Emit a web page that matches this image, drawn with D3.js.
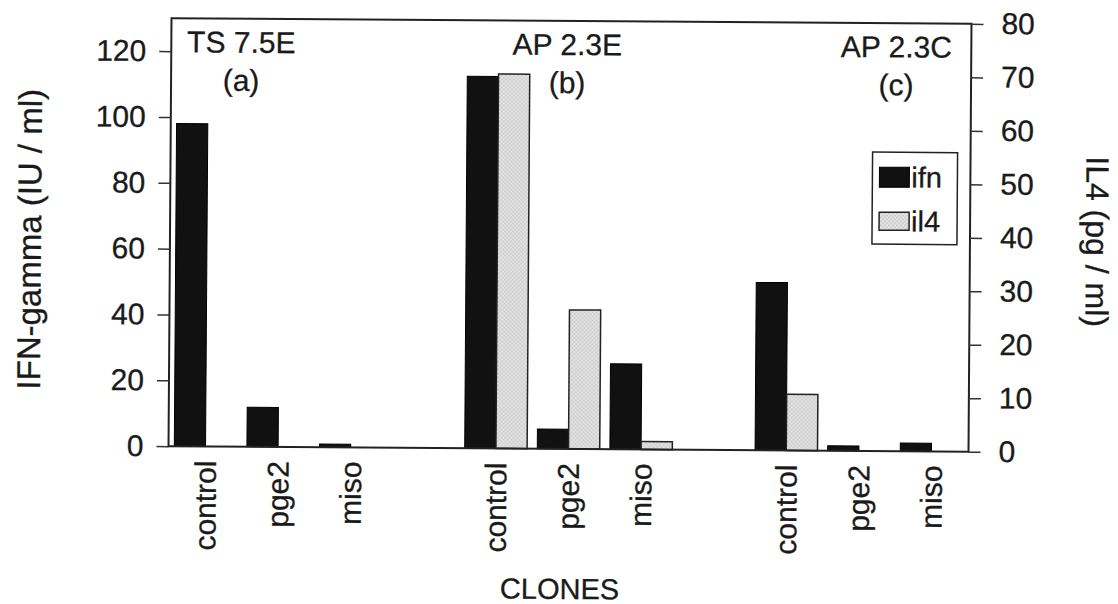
<!DOCTYPE html>
<html>
<head>
<meta charset="utf-8">
<script src="https://cdn.jsdelivr.net/npm/d3@7"></script>
<style>
  body { margin: 0; background: #fff; }
  text { font-family: "Liberation Sans", Arial, sans-serif; fill: #1a1a1a; stroke: #1a1a1a; stroke-width: 0.3; }
</style>
</head>
<body>
<div id="vis"></div>
<script>
const width = 1118;
const height = 604;

// data
const groups = ['TS 7.5E', 'AP 2.3E', 'AP 2.3C'];
const groupTags = ['(a)', '(b)', '(c)'];
const treatments = ['control', 'pge2', 'miso'];
const ifnValues = [[98, 12, 1], [113, 6, 26], [51, 1.5, 2.5]];   // IU / ml
const il4Values = [[0, 0, 0], [70, 26, 1.5], [10.5, 0, 0]];      // pg / ml
const leftTicks = [0, 20, 40, 60, 80, 100, 120];
const rightTicks = [0, 10, 20, 30, 40, 50, 60, 70, 80];

const margin = {left: 170, right: 148, top: 21, bottom: 155};
const plotW = width - margin.left - margin.right;
const plotH = height - margin.top - margin.bottom;

// slots: 3 treatments per group, one empty slot between groups
const slots = [];
groups.forEach((g, gi) => {
    treatments.forEach((t, ti) => slots.push({key: gi + '-' + t, g: gi, t: ti}));
    if (gi < groups.length - 1) slots.push({key: 'gap' + gi, gap: true});
});
const rows = slots.filter(s => !s.gap).map(s => ({
    key: s.key, treatment: treatments[s.t],
    ifn: ifnValues[s.g][s.t], il4: il4Values[s.g][s.t]
}));

const svg = d3.select('#vis')
    .append('svg')
    .attr('width', width)
    .attr('height', height);

const defs = svg.append('defs');
const pat = defs.append('pattern')
    .attr('id', 'dots')
    .attr('patternUnits', 'userSpaceOnUse')
    .attr('width', 4).attr('height', 4);
pat.append('rect').attr('width', 4).attr('height', 4).attr('fill', '#e4e4e4');
pat.append('circle').attr('cx', 1).attr('cy', 1).attr('r', 0.6).attr('fill', '#888');
pat.append('circle').attr('cx', 3).attr('cy', 3).attr('r', 0.6).attr('fill', '#888');

// the scan is tilted slightly
const root = svg.append('g').attr('transform', 'rotate(0.4,570,235)');
const g = root.append('g').attr('transform', `translate(${margin.left},${margin.top})`);

const x = d3.scaleBand()
    .domain(slots.map(s => s.key))
    .range([0, plotW])
    .paddingInner(0.14)
    .paddingOuter(0.08);
const half = x.bandwidth() / 2;

const yL = d3.scaleLinear().domain([0, 130]).range([plotH, 0]);
const yR = d3.scaleLinear().domain([0, 80]).range([plotH, 0]);

// bars
g.selectAll('rect.ifn')
    .data(rows)
    .join('rect')
    .attr('class', 'ifn')
    .attr('x', d => x(d.key))
    .attr('width', half)
    .attr('y', d => yL(d.ifn))
    .attr('height', d => plotH - yL(d.ifn))
    .style('fill', '#111')
    .style('stroke', '#000')
    .style('stroke-width', 1);

g.selectAll('rect.il4')
    .data(rows.filter(d => d.il4 > 0))
    .join('rect')
    .attr('class', 'il4')
    .attr('x', d => x(d.key) + half)
    .attr('width', half)
    .attr('y', d => yR(d.il4))
    .attr('height', d => plotH - yR(d.il4))
    .style('fill', 'url(#dots)')
    .style('stroke', '#222')
    .style('stroke-width', 1.5);

// frame
g.append('rect')
    .attr('width', plotW)
    .attr('height', plotH)
    .style('fill', 'none')
    .style('stroke', '#222')
    .style('stroke-width', 2);

// axes
const leftAxis = g.append('g')
    .call(d3.axisLeft(yL).tickValues(leftTicks).tickSize(12).tickPadding(13));
const rightAxis = g.append('g')
    .attr('transform', `translate(${plotW},0)`)
    .call(d3.axisRight(yR).tickValues(rightTicks).tickSize(12).tickPadding(18));
[leftAxis, rightAxis].forEach(a => {
    a.select('.domain').remove();
    a.selectAll('line').style('stroke', '#333').style('stroke-width', 1.5);
    a.selectAll('text').style('font-size', '30px').style('fill', '#1a1a1a');
});

// category labels
g.selectAll('text.cat')
    .data(rows)
    .join('text')
    .attr('class', 'cat')
    .attr('transform', d => `translate(${x(d.key) + half},${plotH + 14}) rotate(-90)`)
    .attr('text-anchor', 'end')
    .attr('dy', '0.35em')
    .style('font-size', '30px')
    .text(d => d.treatment);

// group titles
const titleX = [240, 566, 895];
groups.forEach((name, i) => {
    g.append('text')
        .attr('x', titleX[i] - margin.left)
        .attr('y', 55 - margin.top)
        .attr('text-anchor', 'middle')
        .style('font-size', '30px')
        .text(name);
    g.append('text')
        .attr('x', titleX[i] - margin.left)
        .attr('y', 93 - margin.top)
        .attr('text-anchor', 'middle')
        .style('font-size', '30px')
        .text(groupTags[i]);
});

// legend
const lg = g.append('g').attr('transform', `translate(${872 - margin.left},${150 - margin.top})`);
lg.append('rect')
    .attr('width', 85).attr('height', 92)
    .style('fill', '#fff').style('stroke', '#222').style('stroke-width', 1.5);
lg.append('rect').attr('x', 7).attr('y', 15).attr('width', 30).attr('height', 20)
    .style('fill', '#111').style('stroke', '#000');
lg.append('text').attr('x', 39).attr('y', 35).style('font-size', '29px').text('ifn');
lg.append('rect').attr('x', 7).attr('y', 60).attr('width', 30).attr('height', 18)
    .style('fill', 'url(#dots)').style('stroke', '#222').style('stroke-width', 1.5);
lg.append('text').attr('x', 39).attr('y', 79).style('font-size', '29px').text('il4');

// axis titles
root.append('text')
    .attr('transform', 'translate(41,243) rotate(-90)')
    .attr('text-anchor', 'middle')
    .style('font-size', '33px')
    .text('IFN-gamma (IU / ml)');
root.append('text')
    .attr('transform', 'translate(1086,238) rotate(90)')
    .attr('text-anchor', 'middle')
    .style('font-size', '32px')
    .text('IL4 (pg / ml)');
root.append('text')
    .attr('x', 562)
    .attr('y', 599)
    .attr('text-anchor', 'middle')
    .style('font-size', '29px')
    .text('CLONES');
</script>
</body>
</html>
